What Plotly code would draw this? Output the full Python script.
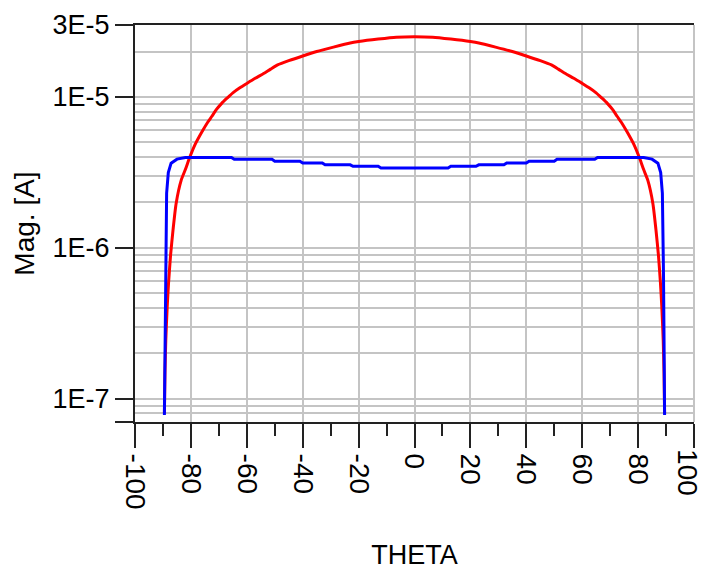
import plotly.graph_objects as go

# ---- data ----
theta_red = [-89.5, -89.3, -89.0, -88.5, -88.0, -87.3, -86.4, -85.3, -83.5, -82.0,
             -80.5, -78.5, -76.0, -74.0, -72.5, -71.0, -69.0, -67.0, -65.0, -62.5, -60.0,
             -57.0, -54.0, -51.5, -49.0, -45.0, -40.0, -35.0, -29.0, -23.0, -20.0, -13.0,
             -6.5, 0.0,
             6.5, 13.0, 20.0, 23.0, 29.0, 35.0, 40.0, 45.0, 49.0, 51.5, 54.0, 57.0, 60.0,
             62.5, 65.0, 67.0, 69.0, 71.0, 72.5, 74.0, 76.0, 78.5, 80.5, 82.0, 83.5, 85.3,
             86.4, 87.3, 88.0, 88.5, 89.0, 89.3, 89.5]
mag_red = [8.0e-8, 1.48e-7, 2.44e-7, 4.06e-7, 5.9e-7, 8.9e-7, 1.32e-6, 1.97e-6, 2.8e-6, 3.3e-6,
           3.95e-6, 4.85e-6, 5.9e-6, 6.8e-6, 7.45e-6, 8.2e-6, 9.07e-6, 9.85e-6, 1.065e-5, 1.15e-5, 1.23e-5,
           1.33e-5, 1.43e-5, 1.53e-5, 1.63e-5, 1.74e-5, 1.87e-5, 2.0e-5, 2.14e-5, 2.28e-5, 2.33e-5, 2.42e-5,
           2.49e-5, 2.51e-5,
           2.49e-5, 2.42e-5, 2.33e-5, 2.28e-5, 2.14e-5, 2.0e-5, 1.87e-5, 1.74e-5, 1.63e-5, 1.53e-5, 1.43e-5, 1.33e-5, 1.23e-5,
           1.15e-5, 1.065e-5, 9.85e-6, 9.07e-6, 8.2e-6, 7.45e-6, 6.8e-6, 5.9e-6, 4.85e-6, 3.95e-6, 3.3e-6, 2.8e-6, 1.97e-6,
           1.32e-6, 8.9e-7, 5.9e-7, 4.06e-7, 2.44e-7, 1.48e-7, 8.0e-8]

theta_blue = [-89.5, -89.3, -89.1, -88.9, -88.7, -88.1, -87.1, -85.0, -82.0,
              -65.5, -64.5, -51.0, -50.0, -41.0, -40.0, -33.0, -32.0, -23.0, -22.0,
              -13.0, -12.0, 12.0, 13.0, 22.0, 23.0, 32.0, 33.0, 40.0, 41.0,
              50.0, 51.0, 64.5, 65.5, 82.0, 85.0, 87.1, 88.1, 88.7, 88.9, 89.1, 89.3, 89.5]
mag_blue = [7.8e-8, 2.44e-7, 6.8e-7, 1.46e-6, 2.3e-6, 3.15e-6, 3.64e-6, 3.87e-6, 3.97e-6,
            3.97e-6, 3.86e-6, 3.86e-6, 3.75e-6, 3.75e-6, 3.65e-6, 3.65e-6, 3.55e-6, 3.55e-6, 3.47e-6,
            3.47e-6, 3.38e-6, 3.38e-6, 3.47e-6, 3.47e-6, 3.55e-6, 3.55e-6, 3.65e-6, 3.65e-6, 3.75e-6,
            3.75e-6, 3.86e-6, 3.86e-6, 3.97e-6, 3.97e-6, 3.87e-6, 3.64e-6, 3.15e-6, 2.3e-6, 1.46e-6, 6.8e-7, 2.44e-7, 7.8e-8]

x_ticks = [-100, -80, -60, -40, -20, 0, 20, 40, 60, 80, 100]
x_ticktext = ["-100", "-80", "-60", "-40", "-20", "0", "20", "40", "60", "80", ""]
x_last_label = "100"
y_ticks = [3e-5, 1e-5, 1e-6, 1e-7, 7e-8]
y_ticktext = ["3E-5", "1E-5", "1E-6", "1E-7", ""]
y_minor = [2e-5,
           9e-6, 8e-6, 7e-6, 6e-6, 5e-6, 4e-6, 3e-6, 2e-6,
           9e-7, 8e-7, 7e-7, 6e-7, 5e-7, 4e-7, 3e-7, 2e-7,
           9e-8, 8e-8]

GRID = "#c4c4c4"
AX = "#222222"
FONT = "Liberation Sans, Arial, sans-serif"

fig = go.Figure()
fig.add_trace(go.Scatter(x=theta_red, y=mag_red, mode="lines",
                         line=dict(color="#ff0000", width=3, shape="spline", smoothing=0.6),
                         showlegend=False))
fig.add_trace(go.Scatter(x=theta_blue, y=mag_blue, mode="lines",
                         line=dict(color="#0000ff", width=3), showlegend=False))

fig.update_layout(
    width=703, height=575,
    margin=dict(l=135, r=9, t=25, b=153),
    paper_bgcolor="white", plot_bgcolor="white",
    font=dict(family=FONT, color="black"),
    xaxis=dict(
        range=[-100.02, 100.02], tickmode="array", tickvals=x_ticks, ticktext=x_ticktext,
        tickangle=90, ticks="outside", ticklen=24, tickwidth=2, tickcolor=AX,
        tickfont=dict(size=28, family=FONT),
        showgrid=True, gridcolor=GRID, gridwidth=1.5,
        showline=True, linecolor=AX, linewidth=2, mirror=True,
        zeroline=False, automargin=False,
        minor=dict(dtick=10, tick0=0, ticks="outside", ticklen=12, tickwidth=2,
                   tickcolor=AX, showgrid=False),
        title=dict(text="THETA", font=dict(size=27, family=FONT), standoff=36),
    ),
    yaxis=dict(
        type="log", range=[-7.1549, -4.5229],
        tickmode="array", tickvals=y_ticks, ticktext=y_ticktext,
        ticks="outside", ticklen=18, tickwidth=2, tickcolor=AX,
        tickfont=dict(size=27, family=FONT),
        showgrid=True, gridcolor=GRID, gridwidth=1.5,
        showline=True, linecolor=AX, linewidth=2,
        zeroline=False, automargin=False,
        minor=dict(tickmode="array", tickvals=y_minor, showgrid=True,
                   gridcolor=GRID, gridwidth=1.5, ticks=""),
        title=dict(text="Mag. [A]", font=dict(size=28, family=FONT), standoff=10),
    ),
)

# last x tick label, kept inside the page edge
fig.add_annotation(x=x_ticks[-1], xref="x", y=0, yref="paper", text=x_last_label,
                   textangle=90, showarrow=False, xanchor="right", yanchor="top",
                   xshift=9, yshift=-27, borderpad=0, borderwidth=0,
                   font=dict(size=28, family=FONT, color="black"))

fig.add_shape(type="line", xref="paper", yref="paper", x0=1, x1=1, y0=0, y1=1,
              line=dict(color=GRID, width=2), layer="below")

fig.write_html("out.html", config={"displayModeBar": False},
               post_script="document.body.style.margin='0';document.body.style.padding='0';document.body.style.overflow='hidden';")
